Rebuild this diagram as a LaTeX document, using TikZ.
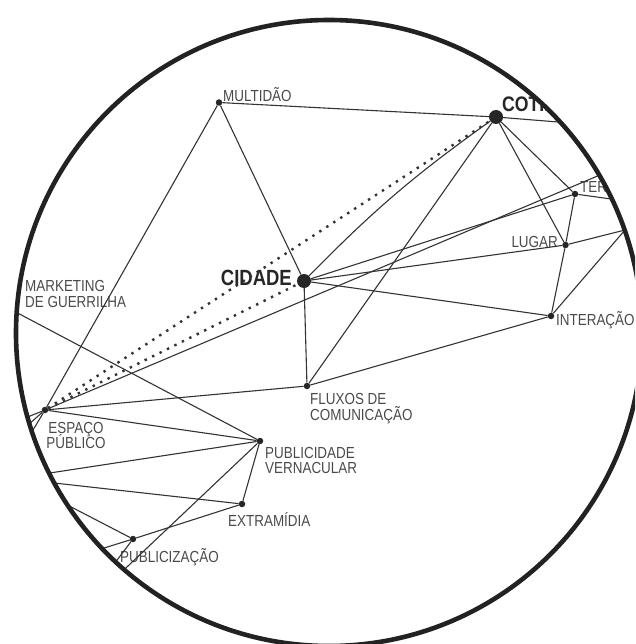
\documentclass[tikz,border=0pt]{standalone}
\usepackage{fontspec}
\setmainfont{Liberation Sans}[FakeStretch=0.84]
\definecolor{linkgray}{HTML}{333333}
\definecolor{dotgray}{HTML}{262626}
\definecolor{labelgray}{HTML}{4A4A4A}
\definecolor{rimgray}{HTML}{222222}
\begin{document}
\begin{tikzpicture}[x=1pt,y=-1pt,
  link/.style={draw=linkgray, line width=1.1pt},
  dotlink/.style={draw=linkgray, line width=2.4pt, dash pattern=on 2.4pt off 5.9pt},
  hub/.style={circle, fill=dotgray, inner sep=0pt, minimum size=14pt},
  knot/.style={circle, fill=dotgray, inner sep=0pt, minimum size=6.5pt},
  lbl/.style={inner sep=0pt, anchor=base west, text=labelgray, font=\fontsize{16}{16}\selectfont},
  biglbl/.style={inner sep=0pt, text=dotgray, font=\fontsize{22}{22}\selectfont\bfseries},
]
\clip (0,0) rectangle (635,644);

\begin{scope}
  \clip (329,333) circle[radius=313];

  % concepts
  \node[hub]  (cidade)       at (304,281)   {};
  \node[hub]  (cotidiano)    at (496,117)   {};
  \node[knot] (multidao)     at (219,102.5) {};
  \node[knot] (territorio)   at (575,194)   {};
  \node[knot] (lugar)        at (565.5,245) {};
  \node[knot] (interacao)    at (551,316)   {};
  \node[knot] (fluxos)       at (307,386)   {};
  \node[knot] (espaco)       at (45,410)    {};
  \node[knot] (vernacular)   at (260,441)   {};
  \node[knot] (extramidia)   at (242,504)   {};
  \node[knot] (publicizacao) at (133,539)   {};

  % concepts lying on or beyond the rim
  \coordinate (marketing) at (10,309);
  \coordinate (rimE)      at (625,230);
  \coordinate (farA)      at (620,127);
  \coordinate (farB)      at (640,203);
  \coordinate (farC)      at (640,158);
  \coordinate (farD)      at (11.6,423.4);
  \coordinate (farE)      at (18.4,433.4);
  \coordinate (farF)      at (25,443.4);
  \coordinate (farG)      at (30,476);
  \coordinate (farH)      at (30,480.3);
  \coordinate (farI)      at (50,496);
  \coordinate (farJ)      at (80,555.5);
  \coordinate (farK)      at (100,592.5);
  \coordinate (farL)      at (105,576);

  % labels
  \node[lbl] (tMultidao) at (223,102) {MULTIDÃO};
  \node[biglbl, anchor=base west, font=\fontsize{21}{21}\selectfont\bfseries] (tCotidiano) at (502,112) {COTIDIANO};
  \node[lbl] (tTerritorio) at (580,193) {TERRITÓRIO};
  \node[lbl, anchor=base east] (tLugar) at (558,247) {LUGAR};
  \node[lbl] (tInteracao) at (556,325) {INTERAÇÃO};
  \node[biglbl, anchor=base east] (tCidade) at (292,285) {CIDADE};
  \node[lbl] (tFluxosA) at (310,404) {FLUXOS DE};
  \node[lbl] (tFluxosB) at (310,420) {COMUNICAÇÃO};
  \node[lbl, anchor=base] (tEspacoA) at (76,433) {ESPAÇO};
  \node[lbl, anchor=base] (tEspacoB) at (76,448) {PÚBLICO};
  \node[lbl] (tVernA) at (265,458) {PUBLICIDADE};
  \node[lbl] (tVernB) at (265,473) {VERNACULAR};
  \node[lbl] (tExtra) at (228,526) {EXTRAMÍDIA};
  \node[lbl] (tPublic) at (120,562) {PUBLICIZAÇÃO};
  \node[lbl] (tMktA) at (25,291) {MARKETING};
  \node[lbl] (tMktB) at (25,307) {DE GUERRILHA};

  % links
  \draw[link] (multidao) -- (cotidiano);
  \draw[link] (multidao) -- (cidade);
  \draw[link] (multidao) -- (espaco);
  \draw[link] (cotidiano) -- (farA);
  \draw[link] (cidade) to[bend left=5] (cotidiano);
  \draw[link] (cotidiano) -- (fluxos);
  \draw[link] (cotidiano) -- (territorio);
  \draw[link] (cotidiano) -- (lugar);
  \draw[dotlink] (espaco) -- (cotidiano);
  \draw[dotlink] (espaco) -- (cidade);
  \draw[link] (cidade) -- (territorio);
  \draw[link] (cidade) -- (lugar);
  \draw[link] (cidade) -- (interacao);
  \draw[link] (cidade) -- (fluxos);
  \draw[link] (territorio) -- (lugar);
  \draw[link] (territorio) -- (farB);
  \draw[link] (lugar) -- (interacao);
  \draw[link] (lugar) -- (rimE);
  \draw[link] (interacao) -- (rimE);
  \draw[link] (fluxos) -- (interacao);
  \draw[link] (fluxos) -- (espaco);
  \draw[link] (espaco) -- (farC);
  \draw[link] (espaco) -- (farD);
  \draw[link] (espaco) -- (farE);
  \draw[link] (espaco) -- (farF);
  \draw[link] (espaco) -- (vernacular);
  \draw[link] (marketing) -- (vernacular);
  \draw[link] (farG) -- (vernacular);
  \draw[link] (farH) -- (extramidia);
  \draw[link] (farI) -- (publicizacao);
  \draw[link] (vernacular) -- (extramidia);
  \draw[link] (vernacular) -- (farK);
  \draw[link] (extramidia) -- (publicizacao);
  \draw[link] (publicizacao) -- (farJ);
  \draw[link] (publicizacao) -- (farL);
\end{scope}

% rim
\draw[rimgray, line width=4.6pt] (329,333) circle[radius=313];
\end{tikzpicture}
\end{document}
